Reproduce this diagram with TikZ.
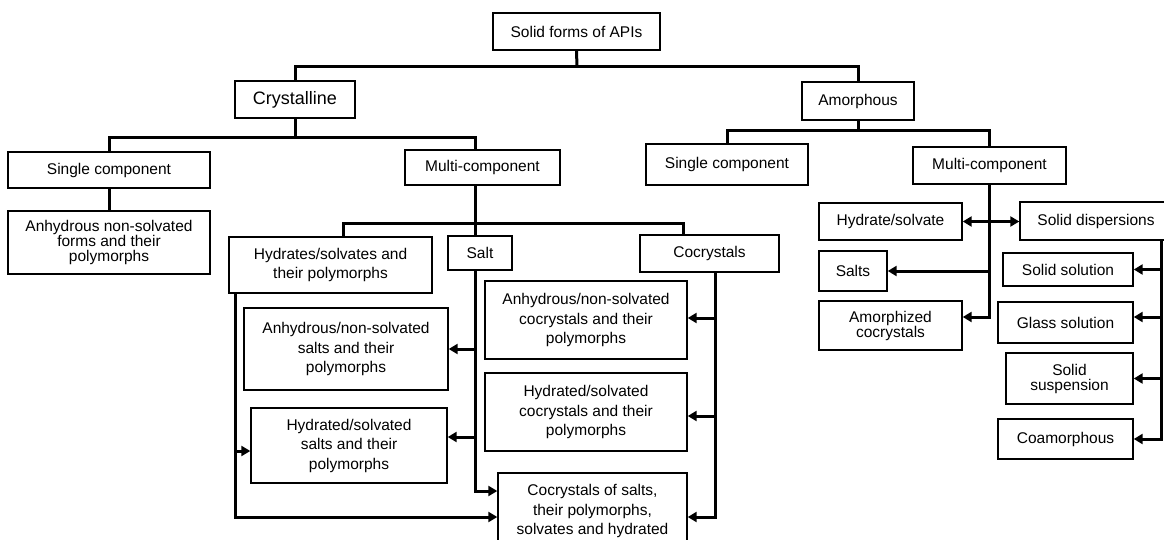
\documentclass[tikz,border=0pt]{standalone}
\usepackage{fontspec}
\setmainfont{Liberation Sans}
\usepackage{tikz}
\usetikzlibrary{arrows.meta, calc}

\tikzset{
  box/.style={draw, line width=1.4pt, inner sep=0pt, align=center, font=\fontsize{15.5}{15}\selectfont},
  loose/.style={font=\fontsize{15.5}{19.5}\selectfont},
  conn/.style={line width=3pt},
  arr/.style={conn, -{Triangle[length=9pt,width=10pt]}},
}

\begin{document}
\begin{tikzpicture}[x=1pt, y=-1pt]
    \useasboundingbox (0,0) rectangle (1164,540);

    % Radice
    \node[box, minimum width=167, minimum height=37] (api) at (576.5,31.5) {Solid forms of APIs};
    \node[box, minimum width=120, minimum height=37, font=\fontsize{18}{18}\selectfont] (cryst) at (295,99.5) {Crystalline};
    \node[box, minimum width=112, minimum height=38] (amor) at (858,101) {Amorphous};

    % Ramo cristallino
    \node[box, minimum width=202, minimum height=36] (scc) at (109,170) {Single component};
    \node[box, minimum width=202, minimum height=63] (anh) at (109,242.5) {Anhydrous non-solvated\\forms and their\\polymorphs};
    \node[box, minimum width=155, minimum height=35] (mcc) at (482.5,167.5) {Multi-component};
    \node[box, loose, minimum width=203, minimum height=56] (hyd) at (330.5,265) {Hydrates/solvates and\\their polymorphs};
    \node[box, minimum width=64, minimum height=34] (salt) at (480,253) {Salt};
    \node[box, minimum width=139, minimum height=37] (cocr) at (709.5,253.5) {Cocrystals};
    \node[box, loose, minimum width=204, minimum height=82] (anhs) at (346,349) {Anhydrous/non-solvated\\salts and their\\polymorphs};
    \node[box, loose, minimum width=196, minimum height=75] (hyds) at (349,445.5) {Hydrated/solvated\\salts and their\\polymorphs};
    \node[box, loose, minimum width=202, minimum height=78] (anhc) at (586,320) {Anhydrous/non-solvated\\cocrystals and their\\polymorphs};
    \node[box, loose, minimum width=202, minimum height=78] (hydc) at (586,412) {Hydrated/solvated\\cocrystals and their\\polymorphs};
    \node[box, loose, minimum width=189, minimum height=76] (cos) at (592.5,511) {Cocrystals of salts,\\their polymorphs,\\solvates and hydrated};

    % Ramo amorfo
    \node[box, minimum width=162, minimum height=41] (sca) at (727,164.5) {Single component};
    \node[box, minimum width=153, minimum height=37] (mca) at (989.5,165.5) {Multi-component};
    \node[box, minimum width=143, minimum height=37] (hs) at (890.5,221.5) {Hydrate/solvate};
    \node[box, minimum width=152, minimum height=38] (sd) at (1096,221) {Solid dispersions};
    \node[box, minimum width=68, minimum height=40] (salts) at (853,271) {Salts};
    \node[box, minimum width=143, minimum height=49] (amc) at (890.5,325.5) {Amorphized\\cocrystals};
    \node[box, minimum width=130, minimum height=33] (ss) at (1068,269.5) {Solid solution};
    \node[box, minimum width=135, minimum height=41] (gs) at (1065.5,322.5) {Glass solution};
    \node[box, minimum width=127, minimum height=51] (susp) at (1069.5,378.5) {Solid\\suspension};
    \node[box, minimum width=135, minimum height=40] (coam) at (1065.5,439) {Coamorphous};

    % Punti di snodo
    \coordinate (j0) at (577,67);
    \coordinate (j1) at (295,138);
    \coordinate (j2) at (475,223);
    \coordinate (j3) at (858,131);
    \coordinate (mcctop) at ([xshift=-7.5pt]mcc.north);
    \coordinate (mccbot) at ([xshift=-7.5pt]mcc.south);
    \coordinate (hydtop) at ([xshift=12.5pt]hyd.north);
    \coordinate (hydbot) at ([xshift=-95.5pt]hyd.south);
    \coordinate (cocrtop) at ([xshift=-26.5pt]cocr.north);
    \coordinate (cocrbot) at ([xshift=5.5pt]cocr.south);
    \coordinate (sdbot) at ([xshift=65pt]sd.south);

    \coordinate (hydsin) at ([yshift=8.5pt]hyds.east);
    \coordinate (hydsw) at ([yshift=-5.5pt]hyds.west);
    \coordinate (cosa) at ([yshift=20pt]cos.west);
    \coordinate (cosb) at ([yshift=-6pt]cos.west);
    \coordinate (cosc) at ([yshift=-6pt]cos.east);
    \coordinate (anhcin) at ([yshift=2pt]anhc.east);
    \coordinate (hydcin) at ([yshift=-4pt]hydc.east);
    \coordinate (amcin) at ([yshift=8.5pt]amc.east);
    \coordinate (gsin) at ([yshift=5.5pt]gs.east);

    % Collegamenti principali
    \draw[conn] (api.south) -- (j0);
    \draw[conn] (cryst.north) |- (j0) -| (amor.north);
    \draw[conn] (cryst.south) -- (j1);
    \draw[conn] (scc.north) |- (j1) -| (mcctop);
    \draw[conn] (scc.south) -- (anh.north);
    \draw[conn] (amor.south) -- (j3);
    \draw[conn] (sca.north) |- (j3) -| (mca.north);

    % Multi-componente cristallino
    \draw[conn] (mccbot) -- (salt.north -| mccbot);
    \draw[conn] (hydtop) |- (j2) -| (cocrtop);
    \draw[arr] (salt.south -| mccbot) |- (cosa);
    \draw[arr] (anhs.east -| mccbot) -- (anhs.east);
    \draw[arr] (hydsin -| mccbot) -- (hydsin);
    \draw[arr] (hydbot) |- (cosb);
    \draw[arr] (hydsw -| hydbot) -- (hydsw);
    \draw[arr] (cocrbot) |- (cosc);
    \draw[arr] (anhcin -| cocrbot) -- (anhcin);
    \draw[arr] (hydcin -| cocrbot) -- (hydcin);

    % Multi-componente amorfo
    \draw[arr] (mca.south) |- (amcin);
    \draw[arr] (salts.east -| mca.south) -- (salts.east);
    \draw[conn, {Triangle[length=9pt,width=10pt]}-{Triangle[length=9pt,width=10pt]}] (hs.east) -- (hs.east -| sd.west);
    \draw[arr] (sdbot) |- (coam.east);
    \draw[arr] (ss.east -| sdbot) -- (ss.east);
    \draw[arr] (gsin -| sdbot) -- (gsin);
    \draw[arr] (susp.east -| sdbot) -- (susp.east);

\end{tikzpicture}
\end{document}
